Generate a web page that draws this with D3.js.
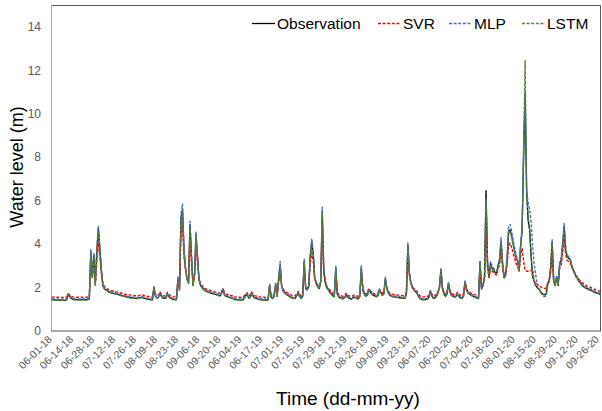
<!DOCTYPE html>
<html>
<head>
<meta charset="utf-8">
<script src="https://d3js.org/d3.v7.min.js"></script>
<style>
  body { margin: 0; background: #fff; }
  text { font-family: "Liberation Sans", Arial, sans-serif; }
</style>
</head>
<body>
<div id="chart"></div>
<script>
// Daily water level (m), Jun-Sep 2018 / 2019 / 2020, 366 days
var observation = [
  1.45,1.44,1.43,1.43,1.42,1.42,1.43,1.42,1.41,1.42,
  1.45,1.70,1.58,1.50,1.46,1.45,1.44,1.44,1.43,1.43,
  1.44,1.45,1.44,1.43,1.45,1.48,3.65,2.50,3.50,2.12,
  3.65,4.70,3.80,2.80,2.10,1.95,1.89,1.85,1.80,1.78,
  1.75,1.73,1.72,1.70,1.68,1.66,1.64,1.62,1.60,1.58,
  1.57,1.55,1.54,1.53,1.52,1.50,1.50,1.50,1.51,1.53,
  1.55,1.53,1.50,1.48,1.47,1.46,1.44,1.43,2.00,1.62,
  1.52,1.55,1.73,1.60,1.52,1.50,1.52,1.70,1.58,1.52,
  1.48,1.46,1.45,1.45,2.42,1.89,5.20,5.60,3.70,2.90,
  2.40,2.20,4.90,3.40,2.10,2.60,4.45,3.40,2.35,2.10,
  2.00,1.92,1.86,1.82,1.80,1.78,1.74,1.72,1.70,1.68,
  1.66,1.64,1.62,1.75,1.91,1.65,1.60,1.58,1.55,1.53,
  1.50,1.50,1.45,1.44,1.43,1.43,1.42,1.43,1.50,1.62,
  1.70,1.52,1.55,1.73,1.60,1.52,1.50,1.48,1.46,1.44,
  1.43,1.43,1.42,1.42,1.44,2.12,1.55,1.50,1.60,2.17,
  1.60,2.40,3.05,2.04,1.85,1.75,1.70,1.65,1.60,1.55,
  1.52,1.50,1.50,1.62,1.75,1.58,1.50,1.60,3.20,1.95,
  1.90,2.04,3.40,4.10,3.55,2.40,2.20,2.04,1.95,2.30,
  5.50,2.80,2.25,2.00,1.90,1.80,1.70,1.62,1.58,2.90,
  1.70,1.58,1.52,1.50,1.48,1.55,1.65,1.55,1.50,1.48,
  1.50,1.55,1.55,1.50,1.48,1.60,2.90,1.90,1.70,1.60,
  1.65,1.91,1.80,1.70,1.65,1.60,1.58,1.62,1.89,1.75,
  1.65,1.70,2.42,1.95,1.75,1.65,1.60,1.58,1.57,1.56,
  1.55,1.54,1.53,1.52,1.51,1.50,1.70,3.95,2.65,2.20,
  2.00,1.90,1.82,1.75,1.60,1.50,1.46,1.45,1.45,1.46,
  1.47,1.55,1.81,1.60,1.50,1.52,1.60,1.75,2.00,2.85,
  1.95,1.70,1.60,1.70,2.19,1.80,1.65,1.60,1.55,1.60,
  1.70,1.60,1.52,1.50,1.60,2.27,1.90,1.75,1.70,1.65,
  1.62,1.58,1.55,1.52,1.50,3.19,1.94,2.10,2.50,6.46,
  3.10,2.50,3.10,2.88,2.80,2.70,2.65,3.00,3.25,4.15,
  3.10,2.45,2.60,3.25,4.60,4.65,4.40,4.04,3.70,3.40,
  3.20,2.80,3.90,4.65,8.00,10.90,6.46,5.10,4.65,3.42,
  2.50,2.30,2.10,2.00,1.94,1.85,1.75,1.70,1.68,1.68,
  2.19,2.30,2.90,4.11,2.30,2.10,2.50,2.10,3.10,3.25,
  4.00,4.80,3.72,3.42,3.35,3.30,3.00,2.80,2.65,2.50,
  2.40,2.27,2.20,2.10,2.05,2.00,1.96,1.93,1.90,1.87,
  1.84,1.80,1.77,1.75,1.72,1.68
];

var svr = [
  1.56,1.56,1.55,1.55,1.55,1.54,1.55,1.54,1.54,1.55,
  1.57,1.72,1.65,1.60,1.57,1.56,1.56,1.55,1.55,1.55,
  1.55,1.56,1.56,1.55,1.56,1.58,3.20,2.45,3.10,2.20,
  3.20,4.10,3.40,2.70,2.20,2.05,1.98,1.94,1.90,1.88,
  1.85,1.83,1.82,1.80,1.78,1.76,1.75,1.73,1.71,1.69,
  1.68,1.67,1.66,1.65,1.64,1.62,1.62,1.62,1.63,1.65,
  1.67,1.65,1.62,1.60,1.59,1.58,1.56,1.55,1.95,1.70,
  1.63,1.65,1.80,1.70,1.63,1.61,1.63,1.78,1.68,1.63,
  1.60,1.58,1.57,1.57,2.30,1.95,4.40,4.80,3.40,2.80,
  2.40,2.25,4.20,3.10,2.20,2.50,3.90,3.10,2.40,2.20,
  2.10,2.02,1.96,1.92,1.90,1.88,1.85,1.83,1.81,1.79,
  1.77,1.75,1.73,1.83,1.95,1.76,1.71,1.69,1.66,1.64,
  1.62,1.62,1.57,1.56,1.55,1.55,1.54,1.55,1.61,1.70,
  1.76,1.63,1.65,1.80,1.70,1.63,1.61,1.60,1.58,1.56,
  1.55,1.55,1.54,1.54,1.56,2.05,1.65,1.61,1.69,2.10,
  1.70,2.25,2.75,2.05,1.92,1.84,1.80,1.76,1.71,1.67,
  1.64,1.62,1.62,1.71,1.82,1.68,1.62,1.70,2.90,2.00,
  1.96,2.08,3.10,3.60,3.20,2.40,2.25,2.10,2.02,2.30,
  4.60,2.70,2.30,2.08,1.98,1.90,1.80,1.73,1.69,2.60,
  1.78,1.68,1.63,1.61,1.60,1.65,1.74,1.65,1.61,1.60,
  1.61,1.65,1.65,1.61,1.60,1.70,2.65,1.95,1.78,1.70,
  1.74,1.95,1.86,1.78,1.74,1.70,1.68,1.72,1.93,1.82,
  1.74,1.78,2.35,1.98,1.82,1.74,1.70,1.68,1.67,1.66,
  1.65,1.65,1.64,1.63,1.62,1.62,1.78,3.50,2.55,2.20,
  2.05,1.96,1.90,1.84,1.70,1.62,1.58,1.57,1.57,1.58,
  1.59,1.65,1.85,1.70,1.61,1.63,1.70,1.82,2.00,2.60,
  1.98,1.78,1.70,1.78,2.15,1.86,1.74,1.70,1.66,1.70,
  1.78,1.70,1.63,1.62,1.70,2.20,1.93,1.82,1.78,1.74,
  1.72,1.69,1.66,1.64,1.62,2.90,1.98,2.10,2.40,4.60,
  2.90,2.45,2.90,2.75,2.70,2.62,2.58,2.85,3.05,3.70,
  2.90,2.45,2.55,3.05,3.90,4.05,3.85,3.60,3.35,3.10,
  2.95,2.75,3.40,3.80,3.20,2.80,2.75,2.75,2.75,2.78,
  2.85,2.30,2.22,2.16,2.10,2.05,2.00,1.96,1.95,1.98,
  2.20,2.25,2.70,3.60,2.30,2.15,2.40,2.15,2.90,3.00,
  3.60,4.20,3.50,3.25,3.20,3.15,2.95,2.80,2.68,2.55,
  2.46,2.36,2.30,2.22,2.17,2.12,2.08,2.05,2.02,1.99,
  1.96,1.93,1.90,1.88,1.85,1.82
];

var mlp = [
  1.49,1.48,1.47,1.47,1.46,1.46,1.47,1.46,1.45,1.46,
  1.49,1.72,1.62,1.54,1.50,1.49,1.48,1.48,1.47,1.47,
  1.48,1.49,1.48,1.47,1.49,1.52,3.75,2.55,3.60,2.20,
  3.80,4.85,3.90,2.85,2.15,2.00,1.93,1.89,1.84,1.82,
  1.79,1.77,1.76,1.74,1.72,1.70,1.68,1.66,1.64,1.62,
  1.61,1.59,1.58,1.57,1.56,1.54,1.54,1.54,1.55,1.57,
  1.59,1.57,1.54,1.52,1.51,1.50,1.48,1.47,2.05,1.66,
  1.56,1.59,1.77,1.64,1.56,1.54,1.56,1.74,1.62,1.56,
  1.52,1.50,1.49,1.49,2.50,1.95,5.35,5.85,3.80,2.95,
  2.45,2.25,5.05,3.50,2.15,2.65,4.55,3.45,2.40,2.15,
  2.04,1.96,1.90,1.86,1.84,1.82,1.78,1.76,1.74,1.72,
  1.70,1.68,1.66,1.79,1.95,1.69,1.64,1.62,1.59,1.57,
  1.54,1.54,1.49,1.48,1.47,1.47,1.46,1.47,1.54,1.66,
  1.74,1.56,1.59,1.77,1.64,1.56,1.54,1.52,1.50,1.48,
  1.47,1.47,1.46,1.46,1.48,2.15,1.59,1.54,1.64,2.20,
  1.64,2.45,3.20,2.08,1.89,1.79,1.74,1.69,1.64,1.59,
  1.56,1.54,1.54,1.66,1.79,1.62,1.54,1.64,3.30,2.00,
  1.94,2.08,3.50,4.25,3.65,2.45,2.24,2.08,1.99,2.35,
  5.70,2.90,2.30,2.04,1.94,1.84,1.74,1.66,1.62,3.00,
  1.74,1.62,1.56,1.54,1.52,1.59,1.69,1.59,1.54,1.52,
  1.54,1.59,1.59,1.54,1.52,1.64,3.00,1.95,1.74,1.64,
  1.69,1.95,1.84,1.74,1.69,1.64,1.62,1.66,1.93,1.79,
  1.69,1.74,2.48,1.99,1.79,1.69,1.64,1.62,1.61,1.60,
  1.59,1.58,1.57,1.56,1.55,1.54,1.75,4.05,2.75,2.25,
  2.04,1.94,1.86,1.79,1.64,1.54,1.50,1.49,1.49,1.50,
  1.51,1.59,1.85,1.64,1.54,1.56,1.64,1.79,2.05,2.90,
  2.00,1.74,1.64,1.74,2.25,1.84,1.69,1.64,1.59,1.64,
  1.74,1.64,1.56,1.54,1.64,2.30,1.95,1.79,1.74,1.69,
  1.66,1.62,1.59,1.56,1.54,3.25,2.00,2.15,2.55,6.10,
  3.20,2.60,3.20,3.00,2.90,2.80,2.75,3.10,3.35,4.30,
  3.20,2.55,2.70,3.35,4.80,4.90,4.60,4.20,3.85,3.50,
  3.30,2.90,4.00,4.80,8.50,11.00,6.40,5.90,5.60,5.00,
  3.90,3.10,2.60,2.20,2.00,1.85,1.70,1.60,1.58,1.60,
  2.15,2.30,2.95,4.20,2.35,2.15,2.55,2.15,3.20,3.35,
  4.10,4.95,3.80,3.50,3.42,3.36,3.05,2.85,2.70,2.55,
  2.44,2.31,2.24,2.14,2.09,2.04,2.00,1.97,1.94,1.91,
  1.88,1.84,1.81,1.79,1.76,1.72
];

var lstm = [
  1.44,1.43,1.42,1.42,1.41,1.41,1.42,1.41,1.40,1.41,
  1.44,1.68,1.57,1.49,1.45,1.44,1.43,1.43,1.42,1.42,
  1.43,1.44,1.43,1.42,1.44,1.47,3.55,2.48,3.40,2.10,
  3.55,4.60,3.70,2.75,2.08,1.94,1.88,1.84,1.79,1.77,
  1.74,1.72,1.71,1.69,1.67,1.65,1.63,1.61,1.59,1.57,
  1.56,1.54,1.53,1.52,1.51,1.49,1.49,1.49,1.50,1.52,
  1.54,1.52,1.49,1.47,1.46,1.45,1.43,1.42,1.95,1.61,
  1.51,1.54,1.70,1.59,1.51,1.49,1.51,1.68,1.57,1.51,
  1.47,1.45,1.44,1.44,2.35,1.88,5.05,5.50,3.65,2.88,
  2.38,2.18,4.80,3.35,2.08,2.55,4.35,3.35,2.32,2.08,
  1.99,1.91,1.85,1.81,1.79,1.77,1.73,1.71,1.69,1.67,
  1.65,1.63,1.61,1.73,1.88,1.64,1.59,1.57,1.54,1.52,
  1.49,1.49,1.44,1.43,1.42,1.42,1.41,1.42,1.49,1.60,
  1.68,1.51,1.54,1.71,1.59,1.51,1.49,1.47,1.45,1.43,
  1.42,1.42,1.41,1.41,1.43,2.08,1.54,1.49,1.59,2.12,
  1.59,2.35,3.00,2.02,1.84,1.74,1.69,1.64,1.59,1.54,
  1.51,1.49,1.49,1.61,1.73,1.57,1.49,1.59,3.15,1.93,
  1.89,2.02,3.35,4.05,3.50,2.38,2.18,2.02,1.94,2.28,
  5.45,2.75,2.22,1.99,1.89,1.79,1.69,1.61,1.57,2.85,
  1.68,1.57,1.51,1.49,1.47,1.54,1.63,1.54,1.49,1.47,
  1.49,1.54,1.54,1.49,1.47,1.58,2.85,1.88,1.69,1.59,
  1.64,1.88,1.79,1.69,1.64,1.59,1.57,1.61,1.86,1.74,
  1.64,1.69,2.38,1.93,1.74,1.64,1.59,1.57,1.56,1.55,
  1.54,1.53,1.52,1.51,1.50,1.49,1.68,3.90,2.60,2.18,
  1.99,1.89,1.81,1.74,1.59,1.49,1.45,1.44,1.44,1.45,
  1.46,1.54,1.78,1.59,1.49,1.51,1.59,1.73,1.97,2.80,
  1.93,1.69,1.59,1.69,2.15,1.79,1.64,1.59,1.54,1.59,
  1.69,1.59,1.51,1.49,1.59,2.22,1.88,1.74,1.69,1.64,
  1.61,1.57,1.54,1.51,1.49,3.10,1.92,2.08,2.45,6.00,
  3.05,2.48,3.05,2.85,2.77,2.68,2.62,2.95,3.20,4.05,
  3.05,2.42,2.58,3.20,4.50,4.55,4.30,3.98,3.65,3.35,
  3.15,2.78,3.85,4.60,8.20,12.44,6.60,5.30,4.70,3.50,
  2.55,2.30,2.08,1.98,1.92,1.83,1.73,1.67,1.65,1.66,
  2.12,2.25,2.85,4.00,2.28,2.08,2.45,2.08,3.05,3.20,
  3.95,4.70,3.68,3.38,3.32,3.27,2.97,2.78,2.62,2.48,
  2.38,2.25,2.18,2.08,2.03,1.98,1.94,1.91,1.88,1.85,
  1.82,1.78,1.75,1.73,1.70,1.66
];

// category labels, one every 14 days
var tickLabels = ["06-01-18","06-14-18","06-28-18","07-12-18","07-26-18","08-09-18","08-23-18",
  "09-06-18","09-20-18","06-04-19","06-17-19","07-01-19","07-15-19","07-29-19","08-12-19",
  "08-26-19","09-09-19","09-23-19","06-07-20","06-20-20","07-04-20","07-18-20","08-01-20",
  "08-15-20","08-29-20","09-12-20","09-26-20"];
var labelStep = 14;
var yTicks = [0, 2, 4, 6, 8, 10, 12, 14];

var seriesNames = ["Observation", "SVR", "MLP", "LSTM"];
var seriesColors = ["#000000", "#ff0000", "#4472c4", "#548235"];

// Defining SVG Area
var svgWidth = 602;
var svgHeight = 411;

var margin = { top: 5, right: 1, bottom: 80, left: 51 };
var width = svgWidth - margin.left - margin.right;
var height = svgHeight - margin.top - margin.bottom;

var svg = d3.select("#chart")
    .append("svg")
    .attr("width", svgWidth)
    .attr("height", svgHeight);

var chartGroup = svg.append("g")
    .attr("transform", `translate(${margin.left}, ${margin.top})`);

// Scales (category axis: every day gets one slot)
var nDays = observation.length;
var xScale = d3.scaleLinear().domain([0, nDays]).range([0, width]);
var yScale = d3.scaleLinear().domain([0, 15]).range([height, 0]);

// plot frame
chartGroup.append("line")
    .attr("x1", 0).attr("x2", width).attr("y1", 0.5).attr("y2", 0.5)
    .attr("stroke", "#595959").attr("stroke-width", 1);
chartGroup.append("line")
    .attr("x1", width - 0.5).attr("x2", width - 0.5).attr("y1", 0).attr("y2", height)
    .attr("stroke", "#595959").attr("stroke-width", 1);

// y axis
var leftAxis = d3.axisLeft(yScale).tickValues(yTicks).tickSize(0).tickPadding(10);
var yAxisG = chartGroup.append("g").call(leftAxis);
yAxisG.select(".domain").attr("stroke", "#a6a6a6").attr("d", `M0.5,0V${height}`);
yAxisG.selectAll("text")
    .attr("fill", "#595959")
    .style("font-size", "12px");

// x axis (labels only, rotated)
var xAxisG = chartGroup.append("g").attr("transform", `translate(0, ${height})`);
xAxisG.append("line")
    .attr("x1", 0).attr("x2", width).attr("y1", 0).attr("y2", 0)
    .attr("stroke", "#595959").attr("stroke-width", 1.2);

xAxisG.selectAll(".xlab")
    .data(tickLabels)
    .enter()
    .append("text")
    .attr("class", "xlab")
    .attr("text-anchor", "end")
    .attr("fill", "#595959")
    .style("font-size", "10.5px")
    .attr("transform", (d, i) => `translate(${xScale(i * labelStep + 0.5) + 1}, 9) rotate(-45)`)
    .text(d => d);

// Lines
var line = d3.line()
    .x((d, i) => xScale(i + 0.5))
    .y(d => yScale(d));

var allSeries = [observation, svr, mlp, lstm];

chartGroup.selectAll(".series")
    .data(allSeries)
    .enter()
    .append("path")
    .attr("class", "series")
    .attr("fill", "none")
    .attr("stroke", (d, i) => seriesColors[i])
    .attr("stroke-width", (d, i) => i == 0 ? 1.3 : 1.4)
    .attr("stroke-dasharray", (d, i) => i == 0 ? null : "3,1.6")
    .attr("stroke-linejoin", "round")
    .attr("d", line);

// Legend
var legendX = [252, 378, 449, 522];
var legend = svg.selectAll(".legend")
    .data(seriesNames)
    .enter()
    .append("g")
    .attr("class", "legend")
    .attr("transform", (d, i) => `translate(${legendX[i]}, 23.5)`);

legend.append("line")
    .attr("x1", 0).attr("x2", 23)
    .attr("stroke", (d, i) => seriesColors[i])
    .attr("stroke-width", (d, i) => i == 0 ? 1.3 : 1.4)
    .attr("stroke-dasharray", (d, i) => i == 0 ? null : "3,1.6");

legend.append("text")
    .attr("x", 25)
    .attr("dy", "0.35em")
    .attr("fill", "#000")
    .style("font-size", "15.5px")
    .text(d => d);

// Axis titles
svg.append("text")
    .attr("transform", "translate(23, 167) rotate(-90)")
    .attr("text-anchor", "middle")
    .attr("fill", "#000")
    .style("font-size", "18px")
    .text("Water level (m)");

svg.append("text")
    .attr("x", 348)
    .attr("y", 405)
    .attr("text-anchor", "middle")
    .attr("fill", "#000")
    .style("font-size", "19px")
    .text("Time (dd-mm-yy)");
</script>
</body>
</html>
